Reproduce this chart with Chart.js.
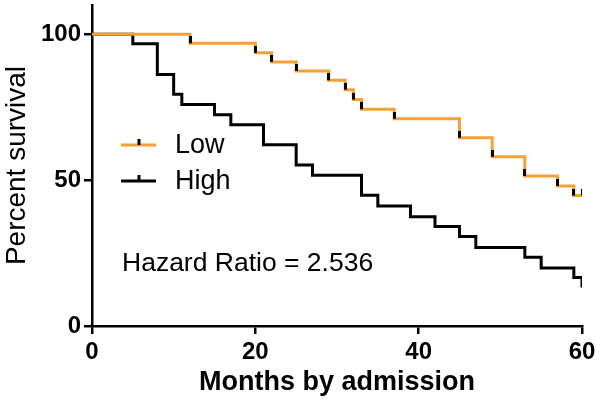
<!DOCTYPE html>
<html>
<head>
<meta charset="utf-8">
<script src="https://cdn.jsdelivr.net/npm/chart.js@4"></script>
<style>
  html, body { margin: 0; padding: 0; background: #fff; }
  #wrap { width: 596px; height: 407px; }
</style>
</head>
<body>
<div id="wrap"><canvas id="kmChart"></canvas></div>
<script>
// curva Kaplan-Meier, valores
const lowTimes   = [0, 12, 20, 22, 25, 29, 31, 32, 33, 37, 45, 49, 53, 57, 59, 60];
const lowSurv    = [100, 96.9, 93.6, 90.5, 87.4, 84.2, 81.0, 77.6, 74.3, 71.0, 64.5, 58.0, 51.4, 48.0, 44.7, 44.7];
const highTimes  = [0, 5, 8, 10, 11, 15, 17, 21, 25, 27, 33, 35, 39, 42, 45, 47, 53, 55, 59, 60];
const highSurv   = [100, 96.7, 86.2, 79.4, 75.9, 72.4, 69.0, 62.1, 55.2, 51.7, 44.8, 41.1, 37.4, 34.1, 30.7, 26.9, 23.6, 19.9, 16.6, 13.2];
// censurados (marcas verticales)
const lowCensorTimes = [12, 20, 22, 25, 29, 31, 32, 33, 37, 45, 49, 53, 57, 59, 60];
const lowCensorSurv  = [96.9, 93.6, 90.5, 87.4, 84.2, 81.0, 77.6, 74.3, 71.0, 64.5, 58.0, 51.4, 48.0, 44.7, 44.7];
const xTicks = [0, 20, 40, 60];
const yTicks = [0, 50, 100];
const seriesNames = ['Low', 'High'];
const hazardText = 'Hazard Ratio = 2.536';

const ORANGE = '#F7A035';
const BLACK = '#000000';

const toXY = (xs, ys) => xs.map((x, i) => ({ x: x, y: ys[i] }));

// marca de censura: linea vertical que sube desde el punto
function censorMark() {
    const c = document.createElement('canvas');
    c.width = 3; c.height = 14;
    const g = c.getContext('2d');
    g.fillStyle = BLACK;
    g.fillRect(0, 0, 3, 7);
    return c;
}
const tick = censorMark();

// leyenda y texto dentro del area
const insideText = {
    id: 'insideText',
    afterDraw(chart) {
        const ctx = chart.ctx;
        const a = chart.chartArea;
        const rows = [
            { name: seriesNames[0], color: ORANGE, y: 145 },
            { name: seriesNames[1], color: BLACK, y: 181 }
        ];
        ctx.save();
        rows.forEach(r => {
            ctx.strokeStyle = r.color;
            ctx.lineWidth = 3;
            ctx.beginPath();
            ctx.moveTo(a.left + 29, r.y);
            ctx.lineTo(a.left + 64, r.y);
            ctx.stroke();
            ctx.strokeStyle = BLACK;
            ctx.beginPath();
            ctx.moveTo(a.left + 47, r.y);
            ctx.lineTo(a.left + 47, r.y - 6);
            ctx.stroke();
            ctx.fillStyle = BLACK;
            ctx.font = '27px "Liberation Sans", Arial, sans-serif';
            ctx.textBaseline = 'middle';
            ctx.textAlign = 'left';
            ctx.fillText(r.name, a.left + 83, r.y + 1);
        });
        ctx.font = '26.5px "Liberation Sans", Arial, sans-serif';
        ctx.textBaseline = 'alphabetic';
        ctx.fillText(hazardText, a.left + 30, 271);
        ctx.restore();
    }
};

const axisFont = { family: '"Liberation Sans", Arial, sans-serif', size: 24, weight: 'bold' };

new Chart(document.getElementById('kmChart'), {
    type: 'line',
    data: {
        datasets: [
            {
                type: 'scatter',
                label: 'censor',
                data: toXY(lowCensorTimes, lowCensorSurv),
                pointStyle: tick,
                order: 0
            },
            {
                label: seriesNames[0],
                data: toXY(lowTimes, lowSurv),
                borderColor: ORANGE,
                borderWidth: 3,
                stepped: 'before',
                pointRadius: 0,
                fill: false,
                order: 1
            },
            {
                label: seriesNames[1],
                data: toXY(highTimes, highSurv),
                borderColor: BLACK,
                borderWidth: 3,
                stepped: 'before',
                pointRadius: 0,
                fill: false,
                order: 2
            }
        ]
    },
    options: {
        responsive: true,
        maintainAspectRatio: false,
        animation: false,
        layout: { padding: { top: 4, right: 14, left: 0, bottom: 0 } },
        plugins: {
            legend: { display: false },
            tooltip: { enabled: false }
        },
        scales: {
            x: {
                type: 'linear',
                min: 0,
                max: 60,
                afterBuildTicks: s => { s.ticks = xTicks.map(v => ({ value: v })); },
                afterFit: s => { s.height = 81; s.paddingLeft = 0; s.paddingRight = 0; },
                border: { display: true, color: BLACK, width: 2.5 },
                grid: { display: true, drawOnChartArea: false, color: BLACK, lineWidth: 2.5, tickLength: 8 },
                ticks: { color: BLACK, font: axisFont, padding: 4, maxRotation: 0 },
                title: {
                    display: true,
                    text: 'Months by admission',
                    color: BLACK,
                    font: { family: '"Liberation Sans", Arial, sans-serif', size: 27, weight: 'bold' },
                    padding: { top: 0, bottom: 8 }
                }
            },
            y: {
                type: 'linear',
                min: 0,
                max: 110,
                afterBuildTicks: s => { s.ticks = yTicks.map(v => ({ value: v })); },
                afterFit: s => { s.width = 92; s.paddingTop = 0; s.paddingBottom = 0; },
                border: { display: true, color: BLACK, width: 2.5 },
                grid: { display: true, drawOnChartArea: false, color: BLACK, lineWidth: 2.5, tickLength: 8 },
                ticks: { color: BLACK, font: axisFont, padding: 3 },
                title: {
                    display: true,
                    text: 'Percent survival',
                    color: BLACK,
                    font: { family: '"Liberation Sans", Arial, sans-serif', size: 28 },
                    padding: { top: 0, bottom: 0 }
                }
            }
        }
    },
    plugins: [insideText]
});
</script>
</body>
</html>
